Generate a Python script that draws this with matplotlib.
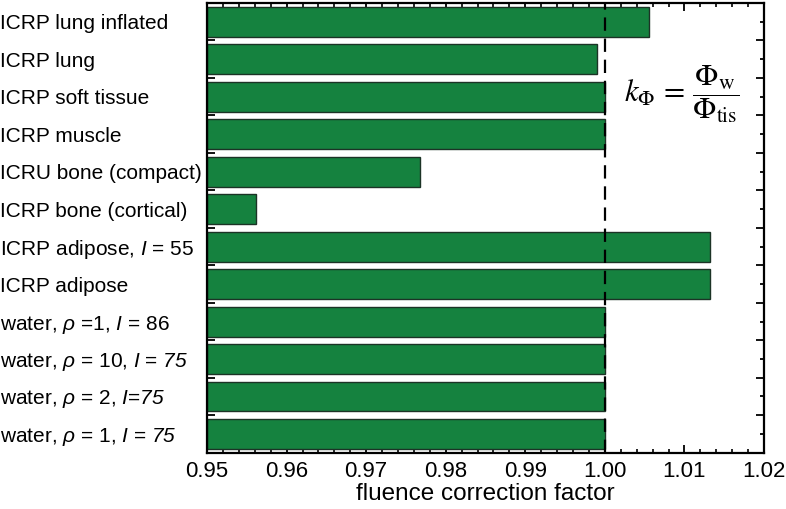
import numpy as np
import matplotlib
matplotlib.use("Agg")
import matplotlib.pyplot as plt
from matplotlib.ticker import MultipleLocator

plt.rcParams['font.family'] = ['Liberation Sans', 'DejaVu Sans']
plt.rcParams['mathtext.fontset'] = 'custom'
plt.rcParams['mathtext.rm'] = 'Liberation Sans'
plt.rcParams['mathtext.it'] = 'Liberation Sans:italic'
# sf slot used for italic digits (the "it" slot turns digits upright)
plt.rcParams['mathtext.sf'] = 'Liberation Sans:italic'

# top to bottom
materials = [
    'ICRP lung inflated',
    'ICRP lung',
    'ICRP soft tissue',
    'ICRP muscle',
    'ICRU bone (compact)',
    'ICRP bone (cortical)',
    r'ICRP adipose, $I$ = 55',
    'ICRP adipose',
    r'water, $\rho$ =1, $I$ = 86',
    r'water, $\rho$ = 10, $I$ = $\mathsf{75}$',
    r'water, $\rho$ = 2, $I$=$\mathsf{75}$',
    r'water, $\rho$ = 1, $I$ = $\mathsf{75}$',
]
k_phi = [1.0055, 0.9990, 1.0000, 1.0000, 0.9768, 0.9562,
         1.0132, 1.0132, 1.0000, 1.0000, 1.0000, 1.0000]

x0 = 0.95

fig = plt.figure(figsize=(7.86, 5.09), dpi=100)
ax = fig.add_axes([0.2634, 0.1106, 0.7086, 0.8835])

ypos = np.arange(len(materials))
ax.barh(ypos, np.array(k_phi) - x0, left=x0, height=0.8,
        color='#15823f', edgecolor='#1c3326', linewidth=1.0, zorder=2)
ax.axvline(1.0, color='black', lw=1.6, ls=(0, (6, 3.5)), zorder=3)

ax.set_xlim(0.95, 1.02)
ax.set_ylim(11.5, -0.5)

ax.xaxis.set_major_locator(MultipleLocator(0.01))
ax.xaxis.set_minor_locator(MultipleLocator(0.002))
ax.xaxis.set_major_formatter(plt.FormatStrFormatter('%.2f'))

ax.set_yticks(ypos)
ax.set_yticklabels(materials, ha='left')
ax.set_yticks(ypos + 0.5, minor=True)

ax.tick_params(axis='x', which='major', direction='in', top=True,
               length=6, width=1.3, labelsize=16, pad=6)
ax.tick_params(axis='x', which='minor', direction='in', top=True,
               length=3, width=1.2)
ax.tick_params(axis='y', which='major', direction='in', right=True,
               length=3, width=1.3, labelsize=15, pad=149)
ax.tick_params(axis='y', which='minor', direction='in', right=True,
               length=6, width=1.3)

for s in ax.spines.values():
    s.set_linewidth(1.6)

ax.set_xlabel('fluence correction factor', fontsize=17.5, labelpad=1)

ax.text(0.853, 0.797,
        r'$k_\Phi \,=\, \dfrac{\Phi_\mathrm{w}}{\Phi_\mathrm{tis}}$',
        transform=ax.transAxes, math_fontfamily='stix', fontsize=22,
        ha='center', va='center')

fig.savefig('out.png', dpi=100)
